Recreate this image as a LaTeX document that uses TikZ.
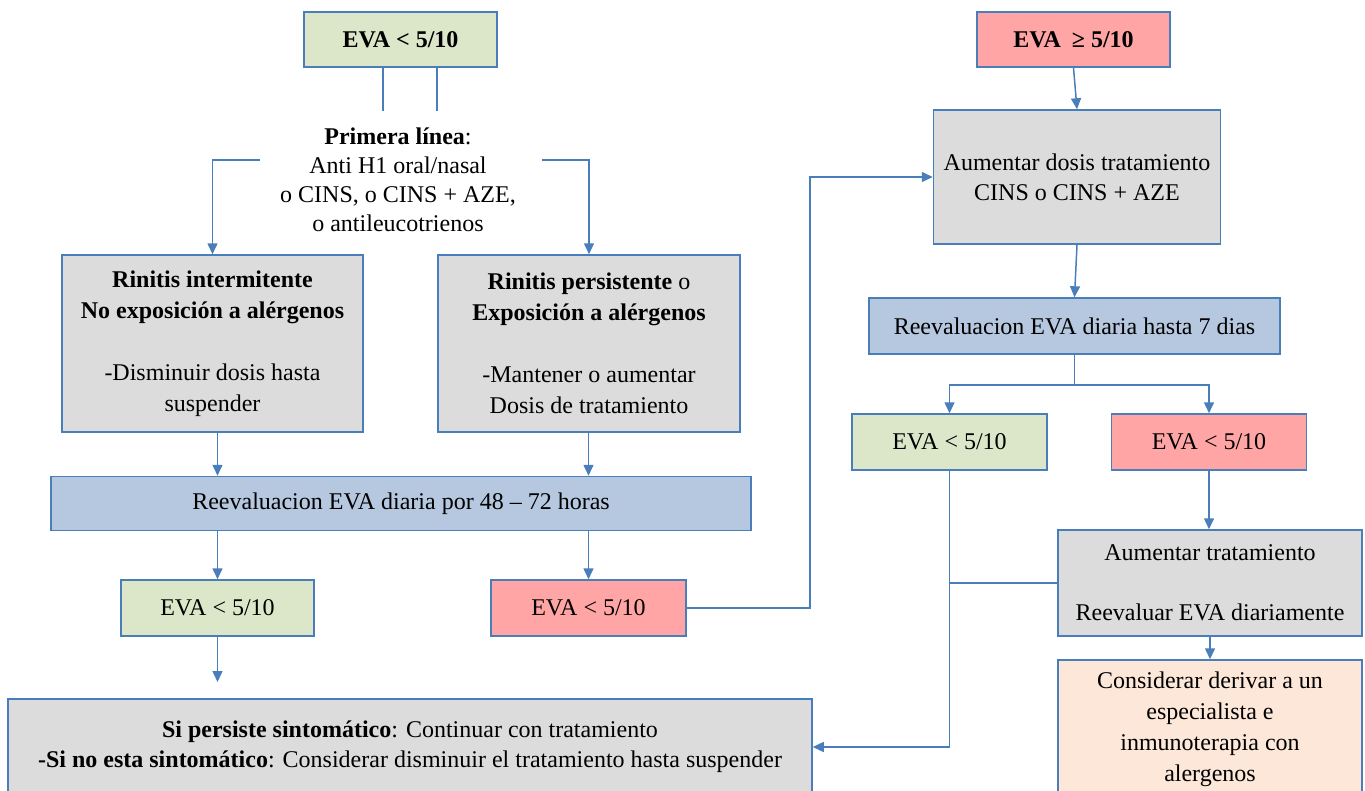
\documentclass[tikz,border=0pt]{standalone}
\usepackage{fontspec}
\setmainfont{Liberation Serif}
\usetikzlibrary{arrows.meta,calc}
\definecolor{lc}{HTML}{4A7EBB}
\definecolor{gfill}{HTML}{DCE6C9}
\definecolor{rfill}{HTML}{FFA5A5}
\definecolor{grfill}{HTML}{DCDCDC}
\definecolor{bfill}{HTML}{B6C8DF}
\definecolor{pfill}{HTML}{FCE7D9}
\begin{document}
\begin{tikzpicture}[x=1pt,y=-1pt,
  box/.style={draw=lc,line width=1.5pt,inner sep=0pt,align=center,font=\fontsize{24}{31}\selectfont},
  conn/.style={draw=lc,line width=1.5pt},
  arr/.style={conn,-{Triangle[length=11pt,width=10pt]}},
]
\useasboundingbox (0,0) rectangle (1365,790);
\clip (0,0) rectangle (1365,790);

% left column
\node[box,fill=gfill,minimum width=193pt,minimum height=55pt] (eva1) at (400.5,39.5) {\textbf{EVA < 5/10}};
\node[align=center,inner sep=0pt,font=\fontsize{24}{29}\selectfont] (prim) at (398,180) {\textbf{Primera línea}:\\Anti H1 oral/nasal\\o CINS, o CINS + AZE,\\o antileucotrienos};
\node[box,fill=grfill,minimum width=301pt,minimum height=177pt] (rint) at (212.5,343.5) {\textbf{Rinitis intermitente}\\\textbf{No exposición a alérgenos}\\\mbox{}\\-Disminuir dosis hasta\\suspender};
\node[box,fill=grfill,minimum width=302pt,minimum height=177pt] (rpers) at (589,343.5) {\textbf{Rinitis persistente} o\\\textbf{Exposición a alérgenos}\\\mbox{}\\-Mantener o aumentar\\Dosis de tratamiento};
\node[box,fill=bfill,minimum width=700pt,minimum height=54pt] (band) at (401,503.5) {Reevaluacion EVA diaria por 48 – 72 horas};
\node[box,fill=gfill,minimum width=193pt,minimum height=56pt] (gl) at (217.5,608) {EVA < 5/10};
\node[box,fill=rfill,minimum width=195pt,minimum height=56pt] (rl) at (588.5,608) {EVA < 5/10};
\node[box,fill=grfill,minimum width=804pt,minimum height=96pt,font=\fontsize{24}{30}\selectfont] (bot) at (410,747) {\textbf{Si persiste sintomático}: Continuar con tratamiento\\\textbf{-Si no esta sintomático}: Considerar disminuir el tratamiento hasta suspender};

% right column
\node[box,fill=rfill,minimum width=193pt,minimum height=55pt] (eva2) at (1073.5,39.5) {\textbf{EVA\hspace{5pt} ≥ 5/10}};
\node[box,fill=grfill,minimum width=287pt,minimum height=134pt,font=\fontsize{24}{30}\selectfont] (aum) at (1077,177) {Aumentar dosis tratamiento\\CINS o CINS + AZE};
\node[box,fill=bfill,minimum width=411pt,minimum height=56pt] (reev7) at (1074.5,326) {Reevaluacion EVA diaria hasta 7 dias};
\node[box,fill=gfill,minimum width=195pt,minimum height=56pt] (g2) at (949.5,442) {EVA < 5/10};
\node[box,fill=rfill,minimum width=195pt,minimum height=56pt] (r2) at (1209,442) {EVA < 5/10};
\node[box,fill=grfill,minimum width=304pt,minimum height=106pt,font=\fontsize{24}{30}\selectfont] (aum2) at (1210,583) {Aumentar tratamiento\\\mbox{}\\Reevaluar EVA diariamente};
\node[box,fill=pfill,minimum width=304pt,minimum height=138pt] (peach) at (1210,729) {Considerar derivar a un\\especialista e\\inmunoterapia con\\alergenos};

% coordinates
\coordinate (pl) at (260,160);
\coordinate (pr) at (542,160);
\coordinate (gend) at (217.5,682);
\coordinate (lp) at (810,0);

% connectors
\draw[conn] ([xshift=-17.5pt]eva1.south) -- ++(0,43);
\draw[conn] ([xshift=36.5pt]eva1.south) -- ++(0,43);
\draw[arr] (pl) -| (rint.north);
\draw[arr] (pr) -| (rpers.north);
\draw[arr] (rint.south -| gl.north) -- (band.north -| gl.north);
\draw[arr] (rpers.south -| rl.north) -- (band.north -| rl.north);
\draw[arr] (band.south -| gl.north) -- (gl.north);
\draw[arr] (band.south -| rl.north) -- (rl.north);
\draw[arr] (gl.south) -- (gend);
\draw[arr] (rl.east) -- (rl.east -| lp) |- (aum.west);
\draw[arr] (eva2.south) -- (aum.north);
\draw[arr] (aum.south) -- (reev7.north);
\draw[arr] (reev7.south) -- ++(0,30) -| (g2.north);
\draw[arr] (reev7.south) -- ++(0,30) -| (r2.north);
\draw[arr] (r2.south) -- (r2.south |- aum2.north);
\draw[arr] (aum2.south) -- (peach.north);
\draw[arr] (g2.south) |- (bot.east);
\draw[conn] (aum2.west) -- (aum2.west -| g2.south);
\end{tikzpicture}
\end{document}
